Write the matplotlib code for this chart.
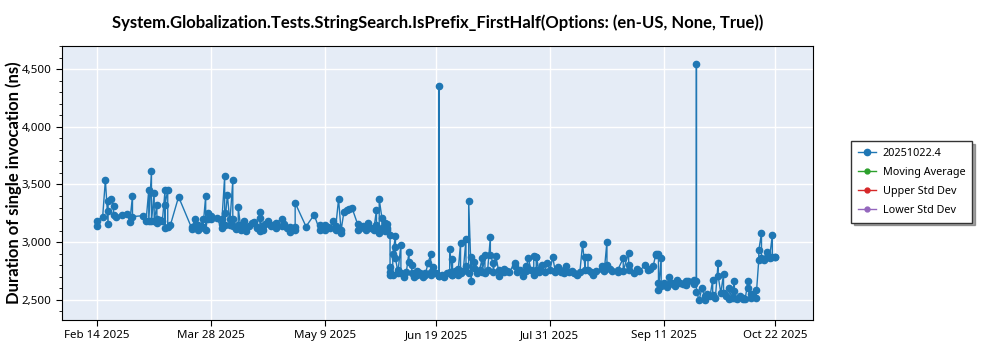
import matplotlib
matplotlib.use("Agg")
import matplotlib.pyplot as plt
import matplotlib.ticker as mticker
import pandas as pd

plt.rcParams['font.family'] = ['Noto Sans', 'DejaVu Sans']

TITLE = "System.Globalization.Tests.StringSearch.IsPrefix_FirstHalf(Options: (en-US, None, True))"
SERIES_NAME = "20251022.4"
EXTRA_SERIES = ["Moving Average", "Upper Std Dev", "Lower Std Dev"]
EXTRA_COLORS = ["#2ca02c", "#d62728", "#9467bd"]

run_dates = [
    "02-14", "02-14", "02-16", "02-17", "02-18", "02-18", "02-18", "02-19", "02-20", "02-20",
    "02-21", "02-23", "02-25", "02-26", "02-27", "02-27", "03-03", "03-04", "03-05", "03-05",
    "03-06", "03-06", "03-07", "03-07", "03-08", "03-08", "03-08", "03-09", "03-10", "03-11",
    "03-11", "03-11", "03-12", "03-12", "03-13", "03-16", "03-21", "03-21", "03-22", "03-22",
    "03-23", "03-23", "03-24", "03-25", "03-25", "03-26", "03-26", "03-27", "03-27", "03-28",
    "03-28", "03-30", "04-01", "04-01", "04-01", "04-02", "04-02", "04-02", "04-03", "04-04",
    "04-04", "04-05", "04-05", "04-05", "04-06", "04-07", "04-07", "04-08", "04-08", "04-09",
    "04-10", "04-10", "04-11", "04-12", "04-13", "04-14", "04-14", "04-15", "04-15", "04-15",
    "04-16", "04-16", "04-17", "04-18", "04-19", "04-20", "04-21", "04-21", "04-23", "04-23",
    "04-24", "04-25", "04-26", "04-26", "04-28", "04-28", "04-28", "05-02", "05-05", "05-07",
    "05-07", "05-08", "05-09", "05-09", "05-10", "05-11", "05-12", "05-13", "05-13", "05-14",
    "05-15", "05-15", "05-16", "05-17", "05-18", "05-19", "05-21", "05-21", "05-22", "05-23",
    "05-24", "05-24", "05-25", "05-25", "05-26", "05-27", "05-28", "05-28", "05-29", "05-29",
    "05-30", "05-30", "05-31", "05-31", "05-31", "06-01", "06-01", "06-01", "06-02", "06-02",
    "06-02", "06-02", "06-03", "06-03", "06-04", "06-04", "06-04", "06-05", "06-05", "06-06",
    "06-06", "06-07", "06-08", "06-09", "06-09", "06-10", "06-10", "06-11", "06-12", "06-12",
    "06-13", "06-14", "06-15", "06-15", "06-16", "06-17", "06-17", "06-17", "06-18", "06-19",
    "06-20", "06-20", "06-20", "06-21", "06-22", "06-23", "06-24", "06-24", "06-25", "06-25",
    "06-25", "06-26", "06-27", "06-27", "06-28", "06-28", "06-29", "06-30", "06-30", "07-01",
    "07-01", "07-02", "07-02", "07-03", "07-03", "07-04", "07-05", "07-06", "07-06", "07-07",
    "07-07", "07-08", "07-09", "07-09", "07-10", "07-10", "07-11", "07-12", "07-12", "07-13",
    "07-14", "07-14", "07-15", "07-16", "07-18", "07-18", "07-19", "07-20", "07-21", "07-22",
    "07-22", "07-23", "07-24", "07-25", "07-25", "07-26", "07-26", "07-26", "07-27", "07-27",
    "07-28", "07-29", "07-30", "07-31", "08-01", "08-02", "08-02", "08-03", "08-04", "08-05",
    "08-05", "08-06", "08-07", "08-08", "08-09", "08-10", "08-11", "08-12", "08-13", "08-13",
    "08-14", "08-14", "08-15", "08-16", "08-17", "08-19", "08-19", "08-20", "08-21", "08-21",
    "08-22", "08-23", "08-25", "08-25", "08-27", "08-27", "08-29", "08-29", "08-29", "08-31",
    "09-01", "09-02", "09-04", "09-05", "09-06", "09-07", "09-08", "09-08", "09-09", "09-09",
    "09-09", "09-10", "09-10", "09-11", "09-12", "09-13", "09-13", "09-14", "09-15", "09-16",
    "09-17", "09-18", "09-19", "09-19", "09-20", "09-22", "09-22", "09-23", "09-23", "09-23",
    "09-24", "09-25", "09-26", "09-26", "09-27", "09-28", "09-29", "09-29", "09-30", "10-01",
    "10-01", "10-02", "10-03", "10-03", "10-04", "10-05", "10-05", "10-06", "10-07", "10-07",
    "10-07", "10-08", "10-09", "10-10", "10-10", "10-11", "10-12", "10-12", "10-13", "10-13",
    "10-14", "10-15", "10-15", "10-16", "10-16", "10-17", "10-17", "10-18", "10-19", "10-19",
    "10-20", "10-20", "10-21", "10-21", "10-22", "10-22",
]
durations = [
    3140, 3188, 3220, 3540, 3160, 3270, 3360, 3375, 3318, 3237,
    3222, 3237, 3245, 3176, 3400, 3222, 3230, 3180, 3453, 3180,
    3620, 3180, 3425, 3180, 3323, 3200, 3170, 3190, 3180, 3448,
    3120, 3323, 3455, 3135, 3150, 3393, 3113, 3130, 3202, 3140,
    3110, 3148, 3120, 3205, 3130, 3400, 3107, 3252, 3200, 3205,
    3230, 3210, 3120, 3160, 3200, 3570, 3250, 3150, 3410, 3150,
    3200, 3535, 3205, 3140, 3115, 3150, 3303, 3107, 3150, 3185,
    3130, 3100, 3140, 3170, 3176, 3120, 3130, 3100, 3260, 3210,
    3110, 3140, 3160, 3185, 3140, 3150, 3120, 3170, 3200, 3140,
    3160, 3120, 3092, 3130, 3110, 3130, 3340, 3136, 3237, 3107,
    3150, 3120, 3150, 3110, 3130, 3120, 3180, 3105, 3140, 3373,
    3083, 3110, 3266, 3275, 3286, 3295, 3159, 3107, 3120, 3140,
    3107, 3130, 3170, 3140, 3127, 3110, 3280, 3150, 3080, 3373,
    3210, 3120, 3167, 3100, 3140, 3110, 3160, 3125, 3064, 2783,
    2716, 2740, 2716, 2900, 3055, 2962, 2860, 2730, 2760, 2980,
    2730, 2700, 2740, 2919, 2830, 2800, 2730, 2700, 2720, 2750,
    2730, 2700, 2730, 2720, 2818, 2896, 2740, 2720, 2783, 2730,
    2710, 4355, 2710, 2720, 2700, 2730, 2746, 2942, 2720, 2855,
    2720, 2750, 2765, 2720, 2992, 2730, 2750, 3026, 2790, 2730,
    3361, 2660, 2870, 2830, 2780, 2730, 2760, 2861, 2740, 2890,
    2730, 2760, 3044, 2890, 2820, 2740, 2880, 2760, 2710, 2740,
    2766, 2740, 2750, 2745, 2818, 2790, 2740, 2760, 2710, 2790,
    2750, 2861, 2760, 2720, 2881, 2875, 2760, 2876, 2740, 2760,
    2800, 2740, 2820, 2760, 2870, 2740, 2750, 2783, 2740, 2735,
    2760, 2790, 2740, 2750, 2730, 2720, 2740, 2983, 2760, 2870,
    2870, 2760, 2740, 2720, 2750, 2766, 2790, 2750, 3006, 2800,
    2770, 2750, 2740, 2760, 2861, 2750, 2910, 2800, 2760, 2730,
    2770, 2750, 2803, 2760, 2770, 2790, 2890, 2899, 2899, 2645,
    2587, 2861, 2620, 2650, 2610, 2702, 2640, 2645, 2620, 2673,
    2645, 2640, 2660, 2630, 2660, 2640, 2673, 2660, 4540, 2572,
    2500, 2600, 2530, 2500, 2550, 2530, 2673, 2540, 2520, 2823,
    2710, 2560, 2725, 2560, 2530, 2510, 2601, 2520, 2660, 2580,
    2520, 2510, 2530, 2510, 2520, 2510, 2660, 2601, 2520, 2550,
    2530, 2587, 2520, 2847, 2930, 3078, 2860, 2850, 2870, 2919,
    2860, 2870, 3064, 2870, 2875, 2870,
]

x_ticks = ["2025-02-14", "2025-03-28", "2025-05-09", "2025-06-19",
           "2025-07-31", "2025-09-11", "2025-10-22"]

dates = pd.to_datetime(["2025-" + d for d in run_dates])

fig = plt.figure(figsize=(10, 3.5), dpi=100)
ax = fig.add_axes([0.062, 0.086, 0.751, 0.783])
ax.set_facecolor("#e5ecf6")

ax.plot(dates, durations, color="#1f77b4", lw=1, marker="o", ms=4.5,
        label=SERIES_NAME, zorder=3)
for name, col in zip(EXTRA_SERIES, EXTRA_COLORS):
    ax.plot([], [], color=col, lw=1, marker="o", ms=3.5, label=name)

ax.set_xlim(pd.Timestamp("2025-02-01"), pd.Timestamp("2025-11-05"))
ax.set_ylim(2327, 4701)

tick_dates = pd.to_datetime(x_ticks)
ax.set_xticks(tick_dates)
ax.set_xticklabels([d.strftime("%b %d %Y").replace(" 0", " ") for d in tick_dates])
ax.yaxis.set_major_locator(mticker.MultipleLocator(500))
ax.yaxis.set_minor_locator(mticker.MultipleLocator(100))
ax.yaxis.set_major_formatter(mticker.FuncFormatter(lambda v, p: f"{v:,.0f}"))
ax.tick_params(labelsize=8.3, length=4)
ax.tick_params(axis="y", which="minor", length=2.5)

ax.grid(True, color="white", lw=1)
ax.set_axisbelow(True)
for s in ax.spines.values():
    s.set_color("black")

bold = ['Lato', 'DejaVu Sans']
ax.set_title(TITLE, fontsize=12, fontweight="bold", family=bold, pad=13)
ax.set_ylabel("Duration of single invocation (ns)", fontsize=12,
              fontweight="bold", family=bold)
ax.yaxis.set_label_coords(-0.053, 0.5)

leg = fig.legend(loc="upper left", bbox_to_anchor=(0.846, 0.612), fontsize=7.8,
                 fancybox=False, shadow=True, edgecolor="#333333", framealpha=1,
                 handlelength=1.7, handletextpad=0.6, borderpad=0.6, labelspacing=0.75)
leg.get_frame().set_linewidth(1)

fig.savefig("out.png", dpi=100)
